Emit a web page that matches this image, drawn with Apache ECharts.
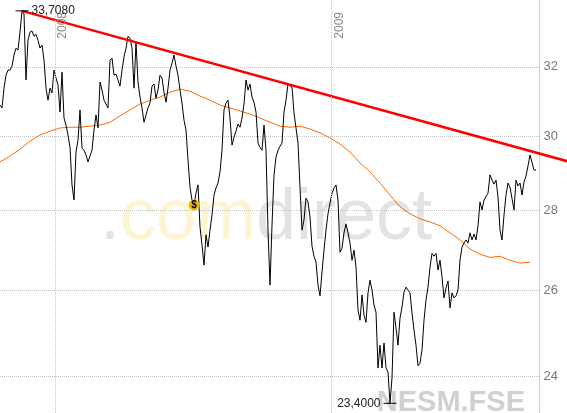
<!DOCTYPE html>
<html><head><meta charset="utf-8">
<script src="https://cdn.jsdelivr.net/npm/echarts@6/dist/echarts.min.js"></script>
<style>html,body{margin:0;padding:0;background:#fff}#c{width:567px;height:413px}</style>
</head><body><div id="c"></div>
<script>
// ---- data ----
const startDate = '2007-10-20';
const axisEndDate = '2009-10-03';
const priceStepDays = 2.648;   // sampling step of the close series
const maStepDays = 13.24;      // sampling step of the moving average
const prices = [
 30.88,30.80,31.37,31.75,31.90,31.90,32.02,32.35,32.56,32.50,
 33.05,33.708,33.61,31.61,32.80,33.05,33.08,32.92,32.98,32.80,
 32.56,32.65,32.20,31.37,31.02,31.37,31.23,31.90,31.67,31.46,
 30.68,31.84,30.51,30.31,30.03,29.69,28.67,28.27,29.56,29.89,
 30.74,29.67,29.61,29.48,29.29,29.45,29.61,30.17,30.60,30.23,
 31.55,31.31,31.02,30.91,30.80,32.20,32.26,31.75,31.78,31.61,
 31.43,31.90,32.29,32.56,32.92,32.86,32.56,31.37,32.74,31.55,
 31.11,30.80,30.39,30.60,30.80,30.94,31.43,31.49,31.08,31.31,
 31.75,31.67,31.25,30.96,31.37,31.90,32.11,32.35,32.02,31.75,
 31.31,30.94,30.45,30.17,29.34,28.61,28.27,28.14,28.45,28.67,
 27.57,27.11,26.61,27.37,27.06,27.49,27.88,28.40,28.59,28.72,
 29.02,29.61,30.74,30.94,31.02,30.51,29.75,29.97,30.14,30.34,
 30.25,30.51,30.91,31.61,31.31,31.49,31.11,30.96,30.68,29.81,
 29.69,29.61,30.31,29.61,27.49,26.12,27.62,28.94,29.42,29.61,
 29.72,29.81,30.68,31.02,31.49,31.43,31.40,30.65,30.23,29.81,
 28.61,27.49,27.75,28.32,28.22,27.83,27.08,26.83,26.68,26.12,
 25.86,26.44,26.98,27.49,27.91,28.19,28.45,28.59,28.67,28.27,
 26.93,27.03,27.42,27.65,27.42,27.16,26.73,26.98,26.56,25.52,
 25.28,25.88,25.40,25.23,25.93,26.24,26.00,25.64,25.47,24.18,
 24.70,24.18,24.75,24.18,24.09,23.40,23.96,25.47,25.10,24.70,
 25.33,25.59,25.95,26.07,26.00,25.93,25.45,25.05,24.70,24.23,
 24.29,24.59,25.28,25.76,26.07,26.56,26.90,26.83,26.90,26.49,
 26.73,26.32,25.81,26.05,26.22,25.57,25.93,25.81,25.86,26.00,
 26.73,27.06,27.16,27.24,27.16,27.42,27.24,27.39,27.24,27.60,
 28.22,28.01,28.27,28.32,28.45,28.94,28.80,28.69,28.80,28.35,
 27.49,27.24,27.88,28.40,28.72,28.61,28.59,28.01,28.80,28.64,
 28.72,28.40,28.75,28.91,29.18,29.48,29.48,29.07,29.07
];
const movingAvg = [
 29.29,29.45,29.64,29.86,30.03,30.14,30.23,30.25,30.25,30.28,
 30.31,30.39,30.57,30.74,30.91,31.02,31.11,31.25,31.34,31.28,
 31.14,31.02,30.88,30.80,30.71,30.62,30.51,30.39,30.28,30.25,
 30.28,30.20,30.09,29.95,29.78,29.56,29.26,29.02,28.72,28.40,
 28.09,27.91,27.78,27.70,27.60,27.42,27.24,27.01,26.88,26.80,
 26.83,26.73,26.66,26.68
];
const trendEnd = { date: '2009-11-09', value: 29.31 };
const dividendIndex = 97;
const yearMarks = ['2008-01-01', '2009-01-01'];
const yearLabels = ['2008', '2009'];
const yTicks = [24, 26, 28, 30, 32];
const yMin = 23.19, yMax = 34.05;
const ticker = 'NESM.FSE';
const watermark = { dot: '.', com: 'com', rest: 'direct' };

// ---- build ----
const DAY = 864e5;
const toMs = d => new Date(d + 'T00:00:00Z').getTime();
const t0 = toMs(startDate);
const tMax = toMs(axisEndDate) + 7 * 3600e3;
const W = 567, plotW = 539.5;
const tMaxWide = t0 + (tMax - t0) * W / plotW; // same time scale, full-width overlay
const priceData = prices.map((v, i) => [t0 + i * priceStepDays * DAY, v]);
const maData = movingAvg.map((v, i) => [t0 + i * maStepDays * DAY, v]);
let peakIdx = 0;
prices.forEach((v, i) => { if (v > prices[peakIdx]) peakIdx = i; });
const trendData = [priceData[peakIdx], [toMs(trendEnd.date), trendEnd.value]];
const fmt = v => v.toFixed(4).replace('.', ',');
const grid = '#c4c4c4';

const chart = echarts.init(document.getElementById('c'), null, { renderer: 'canvas' });
chart.setOption({
  animation: false,
  textStyle: { fontFamily: 'Liberation Sans, Arial, sans-serif' },
  grid: [
    { left: 0, right: W - plotW, top: 0, bottom: 0 },
    { left: 0, right: 0, top: 0, bottom: 0 }
  ],
  xAxis: [
    { type: 'time', min: t0, max: tMax, gridIndex: 0,
      axisLine: { show: false }, axisTick: { show: false }, axisLabel: { show: false }, splitLine: { show: false } },
    { type: 'time', min: t0, max: tMaxWide, gridIndex: 1, show: false }
  ],
  yAxis: [
    { type: 'log', logBase: 10, position: 'right', min: yMin, max: yMax, gridIndex: 0,
      axisLine: { show: true, lineStyle: { color: grid, type: 'dotted' } },
      axisTick: { show: false, customValues: yTicks },
      axisLabel: { customValues: yTicks, color: '#777', fontSize: 13, margin: 4 },
      splitLine: { show: true, lineStyle: { color: grid, type: 'dotted' } } },
    { type: 'log', logBase: 10, min: yMin, max: yMax, gridIndex: 1, show: false }
  ],
  graphic: [
    {
      type: 'text', left: 100, top: 183, silent: true, z: -10,
      style: {
        text: '{g|' + watermark.dot + '}{y|' + watermark.com + '}{g|' + watermark.rest + '}',
        rich: {
          g: { fill: '#e3e3e3', fontSize: 72, fontFamily: 'Liberation Sans' },
          y: { fill: '#fdf4d0', fontSize: 72, fontFamily: 'Liberation Sans' }
        }
      }
    },
    {
      type: 'text', right: 42, top: 388, silent: true, z: -10,
      style: { text: ticker, fill: '#d0d0d0', font: 'bold 29px Liberation Sans' }
    }
  ],
  series: [
    {
      name: 'MA', type: 'line', data: maData, showSymbol: false, z: 2,
      lineStyle: { color: '#ff6a00', width: 1 }
    },
    {
      name: 'Kurs', type: 'line', data: priceData, showSymbol: false, z: 3,
      lineStyle: { color: '#000', width: 1 },
      markLine: {
        silent: true, symbol: 'none', animation: false,
        lineStyle: { color: grid, type: 'dotted', width: 1 },
        label: { show: true, position: 'insideEndBottom', formatter: '{b}', color: '#888', fontSize: 12,
                 distance: [12, 2] },
        data: yearMarks.map((d, i) => ({ xAxis: toMs(d), name: yearLabels[i] }))
      },
      markPoint: {
        silent: true, animation: false,
        data: [
          { type: 'max', symbol: 'rect', symbolSize: [13, 1], itemStyle: { color: '#000' },
            label: { show: true, position: 'right', distance: 3, formatter: p => fmt(p.value), color: '#222', fontSize: 12 } },
          { type: 'min', symbol: 'rect', symbolSize: [13, 1], itemStyle: { color: '#000' },
            label: { show: true, position: 'left', distance: 3, formatter: p => fmt(p.value), color: '#222', fontSize: 12 } },
          { coord: priceData[dividendIndex], symbol: 'circle', symbolSize: 11, itemStyle: { color: '#f5b800' },
            label: { show: true, position: 'inside', formatter: '$', color: '#000', fontSize: 10, fontWeight: 'bold' } }
        ]
      }
    },
    {
      name: 'Trend', type: 'line', data: trendData, showSymbol: false, z: 4,
      xAxisIndex: 1, yAxisIndex: 1,
      lineStyle: { color: '#ff0000', width: 2.5 }
    }
  ]
});
</script></body></html>
